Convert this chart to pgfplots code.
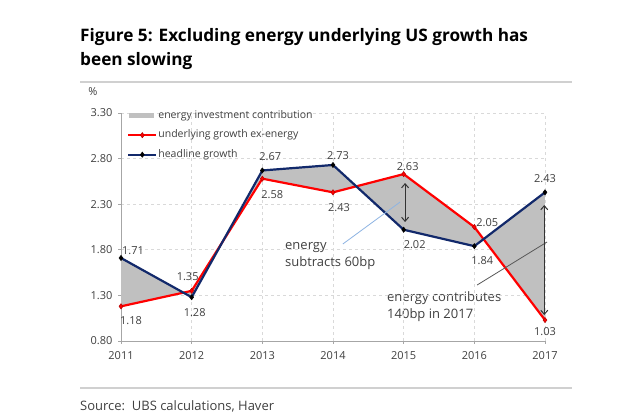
\documentclass[border=0pt]{standalone}
\usepackage{fontspec}
\setmainfont{Open Sans}
\usepackage{pgfplots}
\pgfplotsset{compat=1.18}
\usetikzlibrary{arrows.meta}
\definecolor{navy}{HTML}{12296B}
\definecolor{redl}{HTML}{FF0000}
\definecolor{fillg}{HTML}{C0C0C0}
\definecolor{txt}{HTML}{404040}
\definecolor{gridc}{HTML}{D9D9D9}
\definecolor{axc}{HTML}{A6A6A6}
\definecolor{rulec}{HTML}{D0D0D0}
\definecolor{annblue}{HTML}{8EB4E3}
\definecolor{anngray}{HTML}{595959}
\newcommand\lab{\fontsize{11bp}{13bp}\selectfont}
\newcommand\ann{\fontsize{13bp}{15bp}\selectfont}
\tikzset{dl/.style={font=\lab, text=txt, inner sep=0pt}}
\pgfplotsset{linelegend/.style={legend image code/.code={
    \draw[##1] (0bp,0bp) -- (28bp,0bp);
    \draw[##1, mark repeat=2, mark phase=2] plot coordinates {(0bp,0bp) (14bp,0bp) (28bp,0bp)};}}}
\begin{document}
\begin{tikzpicture}
\fill[white] (0,0) rectangle (640bp,413bp);
\node[anchor=base west, inner sep=0, font=\fontsize{17.2bp}{20bp}\selectfont\bfseries] at (80bp,371bp) {Figure 5: Excluding energy underlying US growth has};
\node[anchor=base west, inner sep=0, font=\fontsize{17.2bp}{20bp}\selectfont\bfseries] at (80bp,347bp) {been slowing};
\draw[rulec, line width=1.5bp] (80bp,331bp) -- (572bp,331bp);
\node[inner sep=0, font=\lab, text=txt] at (93bp,321bp) {\%};
\draw[rulec, line width=1.5bp] (80bp,25bp) -- (572bp,25bp);
\node[anchor=west, inner sep=0, font=\ann, text=txt] at (80bp,7bp) {Source:\ \ UBS calculations, Haver};
\node[anchor=west, inner sep=0, font=\ann, text=txt] at (285bp,165bp) {energy};
\node[anchor=west, inner sep=0, font=\ann, text=txt] at (285bp,150bp) {subtracts 60bp};
\node[anchor=west, inner sep=0, font=\ann, text=txt] at (387bp,115bp) {energy contributes};
\node[anchor=west, inner sep=0, font=\ann, text=txt] at (387bp,98bp) {140bp in 2017};
\begin{axis}[
  at={(121bp,72bp)}, anchor=south west, scale only axis,
  width=424bp, height=228bp,
  xmin=2011, xmax=2017, ymin=0.8, ymax=3.3,
  xtick={2011,2012,2013,2014,2015,2016,2017},
  ytick={0.8,1.3,1.8,2.3,2.8,3.3},
  axis x line*=bottom, axis y line*=left,
  axis line style={axc, line width=0.8bp},
  tick style={axc, line width=0.8bp},
  tick align=outside, major tick length=3bp,
  xmajorgrids, ymajorgrids,
  grid style={gridc, dash pattern=on 3bp off 3bp, line width=0.6bp},
  tick label style={font=\lab, text=txt},
  xticklabel style={/pgf/number format/1000 sep={}, yshift=-4bp},
  yticklabel style={/pgf/number format/fixed, /pgf/number format/fixed zerofill, /pgf/number format/precision=2, xshift=-2bp},
  /pgf/number format/assume math mode=true,
  clip=false,
  legend style={draw=none, fill=none, at={(0,1)}, anchor=north west, xshift=6bp, yshift=4bp,
    inner sep=0pt, row sep=6.5bp, font=\fontsize{10.5bp}{12bp}\selectfont,
    nodes={inner sep=1bp, text height=8bp, text depth=3bp, text=txt}},
  legend cell align=left,
]
\addplot[fill=fillg, draw=none, legend image code/.code={\fill[fillg] (1bp,-2.5bp) rectangle (26bp,2.5bp);}] coordinates {(2011,1.71) (2012,1.28) (2013,2.67) (2014,2.73) (2015,2.02) (2016,1.84) (2017,2.43) (2017,1.03) (2016,2.05) (2015,2.63) (2014,2.43) (2013,2.58) (2012,1.35) (2011,1.18)} -- cycle;
\addlegendentry{energy investment contribution}
\addplot[redl, line width=2.2bp, mark=diamond*, mark size=2.6bp, mark options={fill=redl, draw=red!70!black, line width=0.5bp}, linelegend] coordinates {(2011,1.18) (2012,1.35) (2013,2.58) (2014,2.43) (2015,2.63) (2016,2.05) (2017,1.03)};
\addlegendentry{underlying growth ex-energy}
\addplot[navy, line width=2.2bp, mark=diamond*, mark size=2.6bp, mark options={fill=black, draw=black, line width=0.5bp}, linelegend] coordinates {(2011,1.71) (2012,1.28) (2013,2.67) (2014,2.73) (2015,2.02) (2016,1.84) (2017,2.43)};
\addlegendentry{headline growth}
\draw[annblue, line width=0.8bp] (axis cs:2014.14,1.864) -- (axis cs:2014.95,2.324);
\draw[anngray, line width=0.8bp] (axis cs:2016.04,1.414) -- (axis cs:2017.03,1.886);
\draw[black!80, line width=1bp, {Straight Barb[length=4bp,width=7bp]}-{Straight Barb[length=4bp,width=7bp]}] (axis cs:2015.02,2.532) -- (axis cs:2015.02,2.105);
\draw[black!80, line width=1bp, {Straight Barb[length=4bp,width=7bp]}-{Straight Barb[length=4bp,width=7bp]}] (axis cs:2016.99,2.291) -- (axis cs:2016.99,1.085);
\node[dl, xshift=12bp, yshift=7bp] at (axis cs:2011,1.71) {1.71};
\node[dl, xshift=10bp, yshift=-14bp] at (axis cs:2011,1.18) {1.18};
\node[dl, xshift=-4bp, yshift=14bp] at (axis cs:2012,1.35) {1.35};
\node[dl, xshift=3bp, yshift=-15bp] at (axis cs:2012,1.28) {1.28};
\node[dl, xshift=8bp, yshift=13.5bp] at (axis cs:2013,2.67) {2.67};
\node[dl, xshift=10bp, yshift=-16bp] at (axis cs:2013,2.58) {2.58};
\node[dl, xshift=5bp, yshift=9bp] at (axis cs:2014,2.73) {2.73};
\node[dl, xshift=6bp, yshift=-15bp] at (axis cs:2014,2.43) {2.43};
\node[dl, xshift=4bp, yshift=8bp] at (axis cs:2015,2.63) {2.63};
\node[dl, xshift=11bp, yshift=-15bp] at (axis cs:2015,2.02) {2.02};
\node[dl, xshift=13bp, yshift=4bp] at (axis cs:2016,2.05) {2.05};
\node[dl, xshift=8bp, yshift=-14bp] at (axis cs:2016,1.84) {1.84};
\node[dl, yshift=14bp] at (axis cs:2017,2.43) {2.43};
\node[dl, yshift=-12bp] at (axis cs:2017,1.03) {1.03};
\end{axis}
\end{tikzpicture}
\end{document}
